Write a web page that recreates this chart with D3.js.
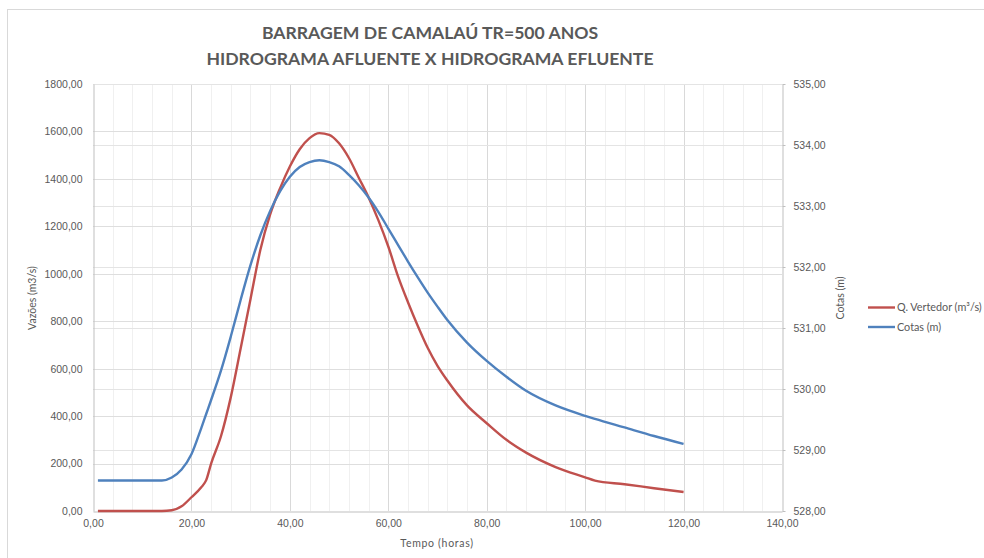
<!DOCTYPE html>
<html>
<head>
<meta charset="utf-8">
<script src="https://cdn.jsdelivr.net/npm/d3@7"></script>
<style>
  body { margin: 0; background: #fff; }
  svg { display: block; font-family: Lato, "Liberation Sans", sans-serif; }
</style>
</head>
<body>
<svg id="chart" width="984" height="558"></svg>
<script>
var titleLines = ['BARRAGEM DE  CAMALAÚ TR=500 ANOS', 'HIDROGRAMA AFLUENTE X HIDROGRAMA EFLUENTE'];

// tempo (horas)
var times = [1, 8, 14, 16, 18, 20, 22, 23, 24, 26, 28, 30, 32, 34, 36, 38, 40, 42, 44, 46,
    48, 50, 52, 54, 56, 58, 60, 62, 64, 66, 68, 70, 72, 76, 80, 84, 88, 94, 100, 102,
    108, 114, 120];
// Q. Vertedor (m3/s) - eixo esquerdo
var vertedor = [0, 0, 0, 3, 20, 58, 100, 130, 200, 315, 480, 685, 893, 1100, 1250, 1360, 1452, 1525, 1572, 1593,
    1586, 1550, 1488, 1405, 1322, 1225, 1115, 988, 880, 780, 688, 612, 550, 445, 370, 300, 246, 185, 142, 128,
    113, 96, 80];
// Cotas (m) - eixo direito
var cotas = [528.5, 528.5, 528.5, 528.55, 528.68, 528.93, 529.36, 529.59, 529.82, 530.3, 530.86, 531.46, 532.03, 532.52, 532.92, 533.24, 533.48, 533.64, 533.72, 533.75,
    533.72, 533.65, 533.51, 533.34, 533.14, 532.9, 532.63, 532.36, 532.09, 531.83, 531.58, 531.35, 531.13, 530.76, 530.46, 530.2, 529.97, 529.73, 529.56, 529.51,
    529.37, 529.23, 529.1];

var xTicks = [0, 20, 40, 60, 80, 100, 120, 140];
var leftTicks = [0, 200, 400, 600, 800, 1000, 1200, 1400, 1600, 1800];
var rightTicks = [528, 529, 530, 531, 532, 533, 534, 535];

window.onload = function() {
    var svg = d3.select('#chart');
    var left = 93, right = 782, top = 84, bottom = 511;
    var fmt = function(v) { return d3.format('.2f')(v).replace('.', ','); };

    var x = d3.scaleLinear([0, 140], [left, right]);
    var yL = d3.scaleLinear([0, 1800], [bottom, top]);
    var yR = d3.scaleLinear([528, 535], [bottom, top]);

    // chart frame
    svg.append('rect')
        .attr('x', 7.5).attr('y', 9.5)
        .attr('width', 1000).attr('height', 600)
        .attr('fill', 'none').attr('stroke', '#d9d9d9');

    var grid = svg.append('g');
    // minor vertical lines every 4h
    grid.selectAll('.minor').data(d3.range(4, 140, 4).filter(function(d) { return d % 20 !== 0; }))
        .join('line')
        .attr('x1', function(d) { return Math.round(x(d)) + 0.5; })
        .attr('x2', function(d) { return Math.round(x(d)) + 0.5; })
        .attr('y1', top).attr('y2', bottom)
        .attr('stroke', '#f0f0f0');
    grid.selectAll('.major').data(xTicks.slice(1, -1))
        .join('line')
        .attr('x1', function(d) { return Math.round(x(d)) + 0.5; })
        .attr('x2', function(d) { return Math.round(x(d)) + 0.5; })
        .attr('y1', top).attr('y2', bottom)
        .attr('stroke', '#d9d9d9');
    grid.selectAll('.hl').data(leftTicks.slice(1))
        .join('line')
        .attr('x1', left).attr('x2', right)
        .attr('y1', function(d) { return Math.round(yL(d)) + 0.5; })
        .attr('y2', function(d) { return Math.round(yL(d)) + 0.5; })
        .attr('stroke', '#dedede');
    grid.selectAll('.hr').data(rightTicks.slice(1))
        .join('line')
        .attr('x1', left).attr('x2', right)
        .attr('y1', function(d) { return Math.round(yR(d)) + 0.5; })
        .attr('y2', function(d) { return Math.round(yR(d)) + 0.5; })
        .attr('stroke', '#e4e4e4');

    var axisColor = '#595959';
    var styleAxis = function(g) {
        g.selectAll('.domain').attr('stroke', '#bfbfbf');
        g.selectAll('.tick line').attr('stroke', '#bfbfbf');
        g.selectAll('.tick text').attr('fill', axisColor).attr('font-size', 10.5);
    };

    svg.append('g').attr('transform', 'translate(' + (left + 0.5) + ',0)')
        .call(d3.axisLeft(yL).tickValues(leftTicks).tickFormat(fmt).tickSize(0).tickPadding(11))
        .call(styleAxis);
    svg.append('g').attr('transform', 'translate(' + (right + 0.5) + ',0)')
        .call(d3.axisRight(yR).tickValues(rightTicks).tickFormat(fmt).tickSize(3).tickSizeOuter(0).tickPadding(8))
        .call(styleAxis);
    svg.append('g').attr('transform', 'translate(0,' + (bottom + 0.5) + ')')
        .call(d3.axisBottom(x).tickValues(xTicks).tickFormat(fmt).tickSize(0).tickPadding(8))
        .call(styleAxis);

    var lineQ = d3.line()
        .x(function(d, i) { return x(times[i]); })
        .y(function(d) { return yL(d); })
        .curve(d3.curveMonotoneX);
    var lineC = d3.line()
        .x(function(d, i) { return x(times[i]); })
        .y(function(d) { return yR(d); })
        .curve(d3.curveMonotoneX);

    svg.append('path').datum(vertedor)
        .attr('d', lineQ)
        .attr('fill', 'none').attr('stroke', '#c0504d').attr('stroke-width', 2.4);
    svg.append('path').datum(cotas)
        .attr('d', lineC)
        .attr('fill', 'none').attr('stroke', '#4f81bd').attr('stroke-width', 2.4);

    // titles
    svg.append('text').selectAll('tspan').data(titleLines)
        .join('tspan')
        .attr('x', 430)
        .attr('y', function(d, i) { return 39 + i * 26; })
        .attr('text-anchor', 'middle')
        .attr('font-size', 17.6).attr('font-weight', 'bold')
        .attr('fill', '#595959')
        .text(function(d) { return d; });

    svg.append('text')
        .attr('transform', 'translate(36,298) rotate(-90)')
        .attr('text-anchor', 'middle')
        .attr('font-size', 10.5).attr('fill', axisColor)
        .text('Vazões (m3/s)');
    svg.append('text')
        .attr('transform', 'translate(844,298) rotate(-90)')
        .attr('text-anchor', 'middle')
        .attr('font-size', 10.5).attr('fill', axisColor)
        .text('Cotas (m)');
    svg.append('text')
        .attr('x', 437).attr('y', 547)
        .attr('text-anchor', 'middle')
        .attr('font-size', 10.5).attr('fill', axisColor)
        .attr('letter-spacing', 0.7)
        .text('Tempo  (horas)');

    // legend
    var legend = [
        { name: 'Q. Vertedor (m³/s)', color: '#c0504d' },
        { name: 'Cotas (m)', color: '#4f81bd' }
    ];
    var lg = svg.append('g').selectAll('g').data(legend).join('g')
        .attr('transform', function(d, i) { return 'translate(868,' + (307.5 + i * 19.5) + ')'; });
    lg.append('line')
        .attr('x1', 0).attr('x2', 27)
        .attr('stroke', function(d) { return d.color; }).attr('stroke-width', 2.4);
    lg.append('text')
        .attr('x', 29).attr('dy', '0.35em')
        .attr('font-size', 10.8).attr('fill', axisColor)
        .text(function(d) { return d.name; });
};
</script>
</body>
</html>
